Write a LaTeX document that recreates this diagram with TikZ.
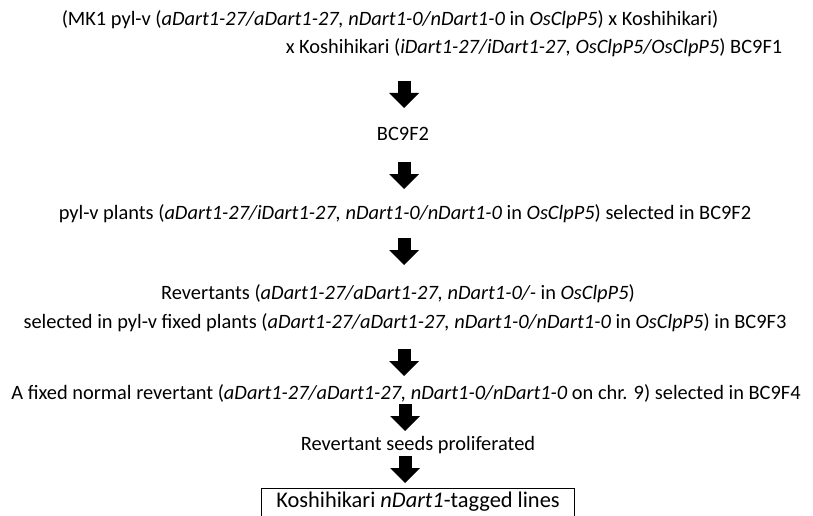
\documentclass[tikz,border=0pt]{standalone}
\usepackage{fontspec}
\setmainfont{Carlito}
\usetikzlibrary{arrows.meta}
\tikzset{
  txt/.style={anchor=base, inner sep=0pt, font=\fontsize{20.4}{24}\selectfont},
  blockarrow/.style={line width=13pt, -{Triangle[width=30pt, length=15pt, line width=0pt]}},
  finalbox/.style={draw, line width=0.9pt, anchor=base, minimum width=313pt, text height=19pt, text depth=25pt, inner sep=0pt, font=\fontsize{22.4}{26}\selectfont}
}
\begin{document}
\begin{tikzpicture}[x=1pt, y=-1pt]
\useasboundingbox (0,0) rectangle (813,516);
\node[txt] (l1) at (390,26) {(MK1 pyl-v (\textit{aDart1-27/aDart1-27, nDart1-0/nDart1-0} in \textit{OsClpP5}) x Koshihikari)};
\node[txt] (l2) at (534,54) {x Koshihikari (\textit{iDart1-27/iDart1-27, OsClpP5/OsClpP5}) BC9F1};
\node[txt] (f2) at (403,140) {BC9F2};
\node[txt] (pv) at (405,219) {pyl-v plants (\textit{aDart1-27/iDart1-27, nDart1-0/nDart1-0} in \textit{OsClpP5}) selected in BC9F2};
\node[txt] (rv) at (398,299) {Revertants (\textit{aDart1-27/aDart1-27, nDart1-0/-} in \textit{OsClpP5})};
\node[txt] (sl) at (405,328) {selected in pyl-v fixed plants (\textit{aDart1-27/aDart1-27, nDart1-0/nDart1-0} in \textit{OsClpP5}) in BC9F3};
\node[txt] (fx) at (406,399) {A fixed normal revertant (\textit{aDart1-27/aDart1-27, nDart1-0/nDart1-0} on chr. 9) selected in BC9F4};
\node[txt] (sd) at (418,450) {Revertant seeds proliferated};
\node[finalbox] (bx) at (418,507) {Koshihikari \textit{nDart1}-tagged lines};
\coordinate (a1s) at (404,81);  \coordinate (a1e) at (404,108);
\coordinate (a2s) at (404,162); \coordinate (a2e) at (404,189);
\coordinate (a3s) at (404,238); \coordinate (a3e) at (404,265);
\coordinate (a4s) at (404,349); \coordinate (a4e) at (404,376);
\coordinate (a5s) at (405,404); \coordinate (a5e) at (405,431);
\coordinate (a6s) at (405,456); \coordinate (a6e) at (405,483);
\draw[blockarrow] (a1s) -- (a1e);
\draw[blockarrow] (a2s) -- (a2e);
\draw[blockarrow] (a3s) -- (a3e);
\draw[blockarrow] (a4s) -- (a4e);
\draw[blockarrow] (a5s) -- (a5e);
\draw[blockarrow] (a6s) -- (a6e);
\end{tikzpicture}
\end{document}
